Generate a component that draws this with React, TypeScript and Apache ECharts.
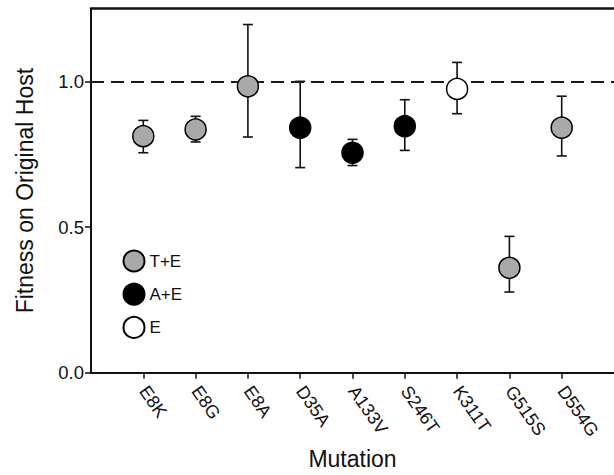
import React, { useEffect, useRef } from "react";
import * as echarts from "echarts";

const categories = ["E8K", "E8G", "E8A", "D35A", "A133V", "S246T", "K311T", "G515S", "D554G"];
const groups = ["T+E", "T+E", "T+E", "A+E", "A+E", "A+E", "E", "T+E", "T+E"];
const means = [0.812, 0.835, 0.983, 0.841, 0.755, 0.846, 0.974, 0.36, 0.841];
const lowers = [0.755, 0.792, 0.809, 0.704, 0.711, 0.763, 0.889, 0.277, 0.744];
const uppers = [0.866, 0.88, 1.195, 1.0, 0.801, 0.937, 1.065, 0.468, 0.949];
const yTicks = [0, 0.5, 1.0];
const groupNames = ["T+E", "A+E", "E"];
const groupColors: Record<string, string> = { "T+E": "#a9a9a9", "A+E": "#000000", E: "#ffffff" };
const refLine = 1.0;

const FONT = "Arial, 'Liberation Sans', Helvetica, sans-serif";

export default function App() {
  const ref = useRef<HTMLDivElement>(null);
  useEffect(() => {
    if (!ref.current) return;
    const chart = echarts.init(ref.current, undefined, { renderer: "svg" });
    const xVals = categories.map((_, i) => i + 1);
    const errData = categories.map((_, i) => [i + 1, lowers[i], uppers[i]]);
    const scatterSeries = groupNames.map((g, gi) => ({
      name: g,
      type: "scatter",
      z: 5,
      symbol: "circle",
      symbolSize: 21,
      itemStyle: { color: groupColors[g], borderColor: "#000", borderWidth: 1.5, opacity: 1 },
      data: categories
        .map((_, i) => (groups[i] === g ? [i + 1, means[i]] : null))
        .filter((d) => d !== null),
      markLine:
        gi === 0
          ? {
              silent: true,
              symbol: "none",
              label: { show: false },
              lineStyle: { color: "#1a1a1a", width: 2, type: [13, 7] },
              data: [{ yAxis: refLine }],
            }
          : undefined,
    }));
    chart.setOption({
      animation: false,
      backgroundColor: "#ffffff",
      grid: { left: 91, top: 8.5, right: -2, bottom: 100.7 },
      legend: {
        orient: "vertical",
        left: 117.5,
        top: 244.5,
        itemWidth: 21,
        itemHeight: 21,
        itemGap: 10.2,
        icon: "circle",
        data: groupNames,
        textStyle: { fontFamily: FONT, fontSize: 17, color: "#111" },
      },
      xAxis: [
        {
          type: "value",
          min: 0,
          max: 10,
          interval: 1,
          name: "Mutation",
          nameLocation: "middle",
          nameGap: 74,
          nameTextStyle: { fontFamily: FONT, fontSize: 23, color: "#111" },
          axisLine: { show: true, onZero: false, lineStyle: { color: "#111", width: 2 } },
          axisTick: { show: true, length: 6, lineStyle: { color: "#111", width: 1.5 }, customValues: xVals },
          axisLabel: {
            customValues: xVals,
            rotate: -55,
            margin: 15,
            fontFamily: FONT,
            fontSize: 18,
            color: "#111",
            formatter: (v: number) => categories[Math.round(v) - 1] ?? "",
          },
          splitLine: { show: false },
        },
        {
          type: "value",
          position: "top",
          min: 0,
          max: 10,
          axisLine: { show: true, onZero: false, lineStyle: { color: "#111", width: 2.5 } },
          axisTick: { show: false },
          axisLabel: { show: false },
          splitLine: { show: false },
        },
      ],
      yAxis: {
        type: "value",
        min: 0,
        max: 1.25,
        name: "Fitness on Original Host",
        nameLocation: "middle",
        nameGap: 55,
        nameTextStyle: { fontFamily: FONT, fontSize: 23, color: "#111" },
        axisLine: { show: true, onZero: false, lineStyle: { color: "#111", width: 2 } },
        axisTick: { show: true, length: 6, lineStyle: { color: "#111", width: 1.5 }, customValues: yTicks },
        axisLabel: {
          customValues: yTicks,
          margin: 7,
          fontFamily: FONT,
          fontSize: 18.5,
          color: "#111",
          formatter: (v: number) => v.toFixed(1),
        },
        splitLine: { show: false },
      },
      series: [
        {
          type: "custom",
          z: 3,
          silent: true,
          data: errData,
          renderItem: (params: any, api: any) => {
            const x = api.value(0);
            const lo = api.coord([x, api.value(1)]);
            const hi = api.coord([x, api.value(2)]);
            const cap = 5;
            const style = { stroke: "#111", lineWidth: 1.6 };
            return {
              type: "group",
              children: [
                { type: "line", shape: { x1: lo[0], y1: lo[1], x2: hi[0], y2: hi[1] }, style },
                { type: "line", shape: { x1: lo[0] - cap, y1: lo[1], x2: lo[0] + cap, y2: lo[1] }, style },
                { type: "line", shape: { x1: hi[0] - cap, y1: hi[1], x2: hi[0] + cap, y2: hi[1] }, style },
              ],
            };
          },
        },
        ...scatterSeries,
      ],
    });
    return () => chart.dispose();
  }, []);
  return <div ref={ref} style={{ position: "fixed", left: 0, top: 0, width: 614, height: 475, background: "#fff" }} />;
}
